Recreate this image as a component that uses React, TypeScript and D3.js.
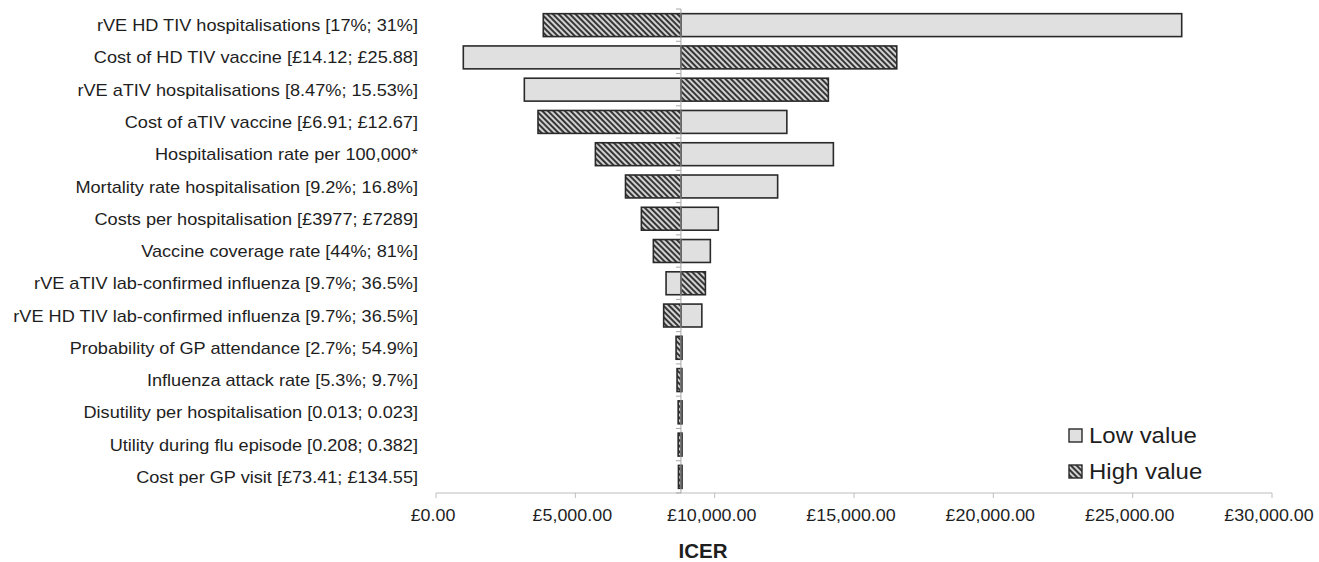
import * as d3 from 'd3'
import React from 'react'

// tornado chart: ICER one-way sensitivity
const categories = [
  'rVE HD TIV hospitalisations [17%; 31%]',
  'Cost of HD TIV vaccine [£14.12; £25.88]',
  'rVE aTIV hospitalisations [8.47%; 15.53%]',
  'Cost of aTIV vaccine [£6.91; £12.67]',
  'Hospitalisation rate per 100,000*',
  'Mortality rate hospitalisation [9.2%; 16.8%]',
  'Costs per hospitalisation [£3977; £7289]',
  'Vaccine coverage rate [44%; 81%]',
  'rVE aTIV lab-confirmed influenza [9.7%; 36.5%]',
  'rVE HD TIV lab-confirmed influenza [9.7%; 36.5%]',
  'Probability of GP attendance [2.7%; 54.9%]',
  'Influenza attack rate [5.3%; 9.7%]',
  'Disutility per hospitalisation [0.013; 0.023]',
  'Utility during flu episode [0.208; 0.382]',
  'Cost per GP visit [£73.41; £134.55]',
]
const lowValues = [26760, 980, 3170, 12590, 14260, 12260, 10130, 9845, 8256, 9540, 8830, 8825, 8830, 8830, 8830]
const highValues = [3850, 16535, 14080, 3660, 5720, 6800, 7370, 7800, 9667, 8170, 8615, 8650, 8690, 8690, 8700]
const baseIcer = 8790
const xTicks = [0, 5000, 10000, 15000, 20000, 25000, 30000]
const legendLabels = ['Low value', 'High value']

const W = 1319
const H = 562
const font = '"Liberation Sans", Arial, sans-serif'

export default function App() {
  const x = d3.scaleLinear().domain([0, 30000]).range([436, 1272])
  const y = d3.scaleBand<string>().domain(categories).range([9, 493]).paddingInner(0.29).paddingOuter(0.145)
  const fmt = (v: number) => '£' + d3.format(',.2f')(v)
  const x0 = x(baseIcer)
  const step = y.step()
  const edges = d3.range(categories.length + 1).map(i => 9 + i * step)

  const bar = (v: number, cat: string, fill: string, key: string) => (
    <rect
      key={key}
      x={Math.min(x(v), x0)}
      y={y(cat)}
      width={Math.abs(x(v) - x0)}
      height={y.bandwidth()}
      fill={fill}
      stroke="#2a2a2a"
      strokeWidth={1.6}
    />
  )

  return (
    <svg width={W} height={H} style={{ position: 'absolute', left: 0, top: 0, background: '#fff' }} fontFamily={font}>
      <defs>
        <pattern id="hatch" width={4} height={4} patternUnits="userSpaceOnUse" patternTransform="rotate(-45)">
          <rect width={4} height={4} fill="#d2d2d2" />
          <line x1={1} y1={0} x2={1} y2={4} stroke="#363636" strokeWidth={2} />
        </pattern>
      </defs>

      {/* category labels (source text is slightly stretched horizontally) */}
      {categories.map(c => (
        <text
          key={c}
          transform={`translate(418, ${(y(c) ?? 0) + y.bandwidth() / 2}) scale(1.08, 1)`}
          dy="0.36em"
          textAnchor="end"
          fontSize={16.8}
          fill="#1e1e1e"
        >
          {c}
        </text>
      ))}

      {/* x axis */}
      <line x1={x(0)} x2={x(30000)} y1={493} y2={493} stroke="#bdbdbd" strokeWidth={1} />
      {xTicks.map(t => (
        <g key={t}>
          <line x1={x(t)} x2={x(t)} y1={493} y2={498} stroke="#bdbdbd" />
          <text transform={`translate(${x(t) - 3}, 521) scale(1.04, 1)`} textAnchor="middle" fontSize={17.2} fill="#1e1e1e">
            {fmt(t)}
          </text>
        </g>
      ))}
      <text x={703} y={558} textAnchor="middle" fontSize={20.5} fontWeight="bold" fill="#1e1e1e">
        ICER
      </text>

      {/* bars */}
      {categories.map((c, i) => (
        <g key={c}>
          {bar(lowValues[i], c, '#e0e0e0', 'lo')}
          {bar(highValues[i], c, 'url(#hatch)', 'hi')}
        </g>
      ))}

      {/* baseline axis */}
      <line x1={x0} x2={x0} y1={9} y2={493} stroke="#a8a8a8" strokeWidth={1} />
      {edges.map((e, i) => (
        <line key={i} x1={x0 - 5} x2={x0} y1={e} y2={e} stroke="#a8a8a8" />
      ))}

      {/* legend */}
      {legendLabels.map((l, i) => (
        <g key={l} transform={`translate(1069, ${429 + i * 36})`}>
          <rect width={13} height={13} fill={i === 0 ? '#e0e0e0' : 'url(#hatch)'} stroke="#2a2a2a" strokeWidth={1.4} />
          <text transform="translate(20, 14) scale(1.09, 1)" fontSize={22} fill="#1e1e1e">
            {l}
          </text>
        </g>
      ))}
    </svg>
  )
}
